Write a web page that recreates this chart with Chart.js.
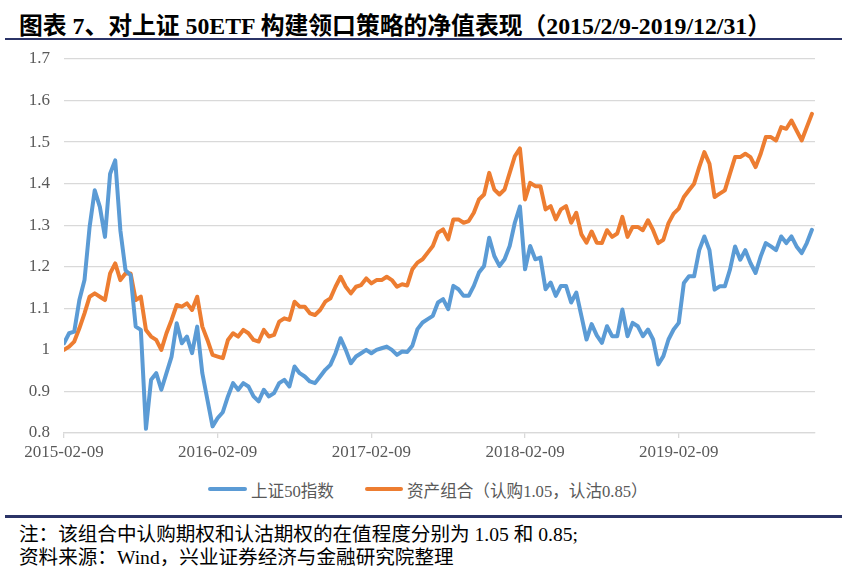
<!DOCTYPE html>
<html>
<head>
<meta charset="utf-8">
<script src="https://cdn.jsdelivr.net/npm/chart.js@4.4.0/dist/chart.umd.min.js"></script>
<style>
    body { margin: 0; background: #fff; width: 847px; height: 572px; position: relative; overflow: hidden; }
    .title { position: absolute; left: 19px; top: 6px; font: bold 23.8px "Liberation Serif", "Noto Sans CJK SC"; color: #000; white-space: nowrap; }
    .rule { position: absolute; left: 5px; width: 837px; background: #2b3467; }
    .chartBox { position: absolute; left: 0; top: 0; width: 847px; height: 470px; }
    .legend { position: absolute; top: 478px; left: 0; font: 16.6px "Liberation Serif", "Noto Sans CJK SC"; color: #595959; white-space: nowrap; }
    .legend span { position: absolute; top: 0; }
    .legend i { position: absolute; top: 9px; height: 4px; border-radius: 2px; }
    .note { position: absolute; left: 19px; font: 19.6px "Liberation Serif", "Noto Sans CJK SC"; color: #000; white-space: nowrap; }
</style>
</head>
<body>
<div class="title">图表 7、对上证 50ETF 构建领口策略的净值表现（2015/2/9-2019/12/31）</div>
<div class="rule" style="top: 38px; height: 2px;"></div>
<div class="chartBox"><canvas id="myLineChart"></canvas></div>
<div class="legend">
    <i style="left: 208px; width: 39px; background: #5b9bd5;"></i>
    <span style="left: 251px;">上证50指数</span>
    <i style="left: 365px; width: 38px; background: #ed7d31;"></i>
    <span style="left: 407px;">资产组合（认购1.05，认沽0.85）</span>
</div>
<div class="rule" style="top: 515px; height: 3px;"></div>
<div class="note" style="top: 518px;">注：该组合中认购期权和认沽期权的在值程度分别为 1.05 和 0.85;</div>
<div class="note" style="top: 541px;">资料来源：Wind，兴业证券经济与金融研究院整理</div>

<script>
// x axis: one sample every ~1/30 year, labels every 30 samples
const tickLabels = ['2015-02-09', '2016-02-09', '2017-02-09', '2018-02-09', '2019-02-09']
const tickIndex = [0, 30, 60, 90, 120]

const sz50 = [
    1.016, 1.04, 1.044, 1.12, 1.168, 1.296, 1.384, 1.344, 1.272, 1.424,
    1.456, 1.288, 1.192, 1.18, 1.056, 1.048, 0.81, 0.928, 0.944, 0.904,
    0.944, 0.984, 1.064, 1.016, 1.032, 0.992, 1.056, 0.944, 0.88, 0.816,
    0.836, 0.85, 0.888, 0.92, 0.904, 0.92, 0.912, 0.888, 0.876, 0.904,
    0.888, 0.896, 0.92, 0.928, 0.912, 0.96, 0.944, 0.936, 0.924, 0.92,
    0.936, 0.952, 0.964, 0.992, 1.028, 1.0, 0.968, 0.984, 0.992, 1.0,
    0.992, 1.0, 1.004, 1.008, 1.0, 0.988, 0.996, 0.995, 1.01, 1.05,
    1.066, 1.074, 1.082, 1.114, 1.122, 1.098, 1.154, 1.146, 1.13, 1.13,
    1.154, 1.186, 1.202, 1.27, 1.226, 1.202, 1.218, 1.25, 1.306, 1.345,
    1.194, 1.25, 1.218, 1.222, 1.146, 1.162, 1.13, 1.154, 1.154, 1.114,
    1.138, 1.082, 1.025, 1.062, 1.035, 1.017, 1.057, 1.033, 1.033, 1.097,
    1.033, 1.065, 1.057, 1.033, 1.049, 1.025, 0.965, 0.985, 1.025, 1.049,
    1.065, 1.161, 1.177, 1.177, 1.24, 1.273, 1.24, 1.145, 1.153, 1.153,
    1.193, 1.249, 1.217, 1.24, 1.209, 1.185, 1.225, 1.257, 1.249, 1.24,
    1.273, 1.257, 1.273, 1.249, 1.233, 1.257, 1.289
]

const portfolio = [
    1.0, 1.008, 1.02, 1.052, 1.088, 1.128, 1.136, 1.128, 1.12, 1.184,
    1.208, 1.168, 1.184, 1.184, 1.12, 1.128, 1.048, 1.032, 1.024, 1.0,
    1.04, 1.072, 1.108, 1.104, 1.112, 1.096, 1.128, 1.056, 1.024, 0.988,
    0.984, 0.98, 1.024, 1.04, 1.032, 1.048, 1.04, 1.024, 1.02, 1.048,
    1.032, 1.036, 1.068, 1.076, 1.072, 1.116, 1.104, 1.104, 1.088, 1.084,
    1.096, 1.116, 1.124, 1.152, 1.176, 1.152, 1.136, 1.152, 1.156, 1.172,
    1.16, 1.168, 1.168, 1.176, 1.168, 1.152, 1.158, 1.155, 1.194, 1.21,
    1.218, 1.234, 1.25, 1.282, 1.29, 1.266, 1.314, 1.314, 1.306, 1.31,
    1.33, 1.362, 1.374, 1.426, 1.386, 1.374, 1.386, 1.426, 1.466, 1.485,
    1.362, 1.402, 1.394, 1.394, 1.338, 1.346, 1.314, 1.338, 1.346, 1.306,
    1.33, 1.278, 1.258, 1.285, 1.258, 1.257, 1.288, 1.272, 1.28, 1.32,
    1.272, 1.296, 1.296, 1.288, 1.312, 1.288, 1.257, 1.265, 1.305, 1.328,
    1.34, 1.368, 1.384, 1.4, 1.44, 1.476, 1.448, 1.368, 1.376, 1.384,
    1.424, 1.464, 1.464, 1.472, 1.464, 1.44, 1.472, 1.512, 1.512, 1.504,
    1.536, 1.532, 1.552, 1.528, 1.504, 1.536, 1.568
]

const seriesNames = ['上证50指数', '资产组合（认购1.05，认沽0.85）']

const tickFont = { family: '"Liberation Serif", "Noto Sans CJK SC"', size: 17 }

const toPoints = arr => arr.map((v, i) => ({ x: i, y: v }))

const lineConfig = {
    type: 'line',
    data: {
        datasets: [
            {
                label: seriesNames[0],
                data: toPoints(sz50),
                borderColor: '#5b9bd5',
                backgroundColor: '#5b9bd5',
                borderWidth: 4,
                pointRadius: 0,
                borderJoinStyle: 'round',
                borderCapStyle: 'round',
                tension: 0
            },
            {
                label: seriesNames[1],
                data: toPoints(portfolio),
                borderColor: '#ed7d31',
                backgroundColor: '#ed7d31',
                borderWidth: 4,
                pointRadius: 0,
                borderJoinStyle: 'round',
                borderCapStyle: 'round',
                tension: 0
            }
        ]
    },
    options: {
        responsive: true,
        maintainAspectRatio: false,
        animation: false,
        layout: { padding: { top: 59, right: 32, left: 0, bottom: 0 } },
        plugins: {
            legend: { display: false },
            tooltip: { enabled: false }
        },
        scales: {
            x: {
                type: 'linear',
                min: 0,
                max: 146.6,
                afterBuildTicks: scale => { scale.ticks = tickIndex.map(v => ({ value: v })) },
                afterFit: scale => { scale.height = 37 },
                ticks: {
                    autoSkip: false,
                    maxRotation: 0,
                    padding: 4,
                    color: '#595959',
                    font: tickFont,
                    callback: v => tickLabels[tickIndex.indexOf(v)] ?? ''
                },
                grid: {
                    drawOnChartArea: false,
                    tickLength: 5,
                    color: '#d9d9d9',
                    lineWidth: 1.3
                },
                border: { color: '#d9d9d9', width: 1.3 }
            },
            y: {
                min: 0.8,
                max: 1.7,
                afterFit: scale => { scale.width = 64 },
                ticks: {
                    stepSize: 0.1,
                    padding: 14,
                    color: '#595959',
                    font: tickFont,
                    callback: v => String(Number(v.toFixed(1)))
                },
                grid: {
                    drawTicks: false,
                    color: '#d9d9d9',
                    lineWidth: 1.3
                },
                border: { display: false }
            }
        }
    }
}

const lineChart = new Chart(document.querySelector('#myLineChart'), lineConfig)
</script>
</body>
</html>
